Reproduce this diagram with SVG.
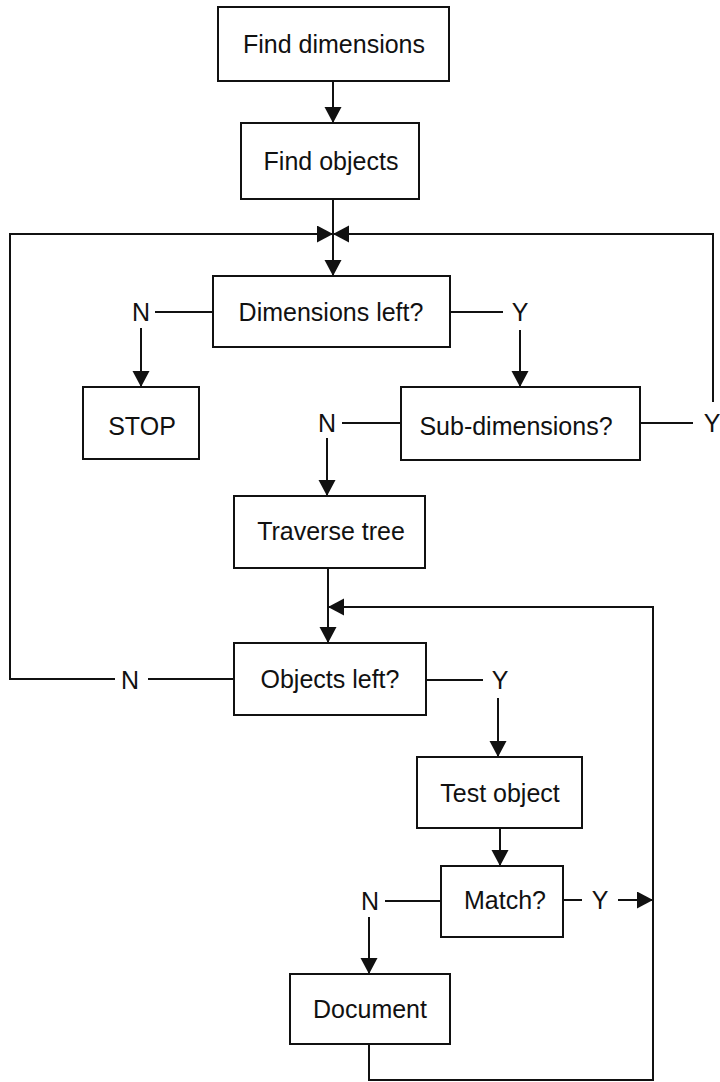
<svg xmlns="http://www.w3.org/2000/svg" width="720" height="1082" viewBox="0 0 720 1082">
  <style>
    .box { fill: #ffffff; stroke: #111111; stroke-width: 2; }
    .lbl { font-family: "Liberation Sans", Arial, sans-serif; font-size: 25px; fill: #111111; text-anchor: middle; }
    .ln { fill: none; stroke: #111111; stroke-width: 2; }
    .arr { fill: none; stroke: #111111; stroke-width: 2; marker-end: url(#head); }
  </style>
  <defs>
    <marker id="head" markerUnits="userSpaceOnUse" markerWidth="18" markerHeight="18" refX="16" refY="8.5" orient="auto">
      <path d="M0,0 L16,8.5 L0,17 Z" fill="#111111"/>
    </marker>
  </defs>
  <rect width="720" height="1082" fill="#ffffff"/>

  <!-- connectors -->
  <g id="connectors">
    <path class="arr" d="M333,81 V123"/>
    <path class="arr" d="M333,199 V276"/>
    <!-- outer loop back from "Objects left?" N -->
    <path class="ln" d="M234,679 H148"/>
    <path class="arr" d="M115,679 H10 V234 H333"/>
    <!-- loop back from "Sub-dimensions?" Y -->
    <path class="ln" d="M640,423 H693"/>
    <path class="arr" d="M713,402 V234 H333"/>
    <!-- "Dimensions left?" branches -->
    <path class="ln" d="M213,312 H155"/>
    <path class="arr" d="M141,328 V387"/>
    <path class="ln" d="M450,312 H503"/>
    <path class="arr" d="M520,330 V387"/>
    <!-- "Sub-dimensions?" N branch -->
    <path class="ln" d="M401,423 H342"/>
    <path class="arr" d="M327,438 V496"/>
    <path class="arr" d="M328,568 V643"/>
    <!-- inner loop from "Document" back to "Objects left?" -->
    <path class="arr" d="M369,1044 V1080 H653 V607 H328"/>
    <!-- "Objects left?" Y branch -->
    <path class="ln" d="M426,680 H483"/>
    <path class="arr" d="M498,698 V757"/>
    <path class="arr" d="M500,828 V866"/>
    <!-- "Match?" branches -->
    <path class="ln" d="M441,901 H385"/>
    <path class="arr" d="M369,917 V974"/>
    <path class="ln" d="M563,900 H582"/>
    <path class="arr" d="M618,900 H653"/>
  </g>

  <!-- branch labels -->
  <g id="labels">
    <text class="lbl" x="141" y="321">N</text>
    <text class="lbl" x="520" y="321">Y</text>
    <text class="lbl" x="327" y="432">N</text>
    <text class="lbl" x="712" y="432">Y</text>
    <text class="lbl" x="130" y="689">N</text>
    <text class="lbl" x="500" y="689">Y</text>
    <text class="lbl" x="370" y="910">N</text>
    <text class="lbl" x="600" y="909">Y</text>
  </g>

  <g id="find-dimensions">
    <rect class="box" x="218" y="7" width="231" height="74"/>
    <text class="lbl" x="334" y="53">Find dimensions</text>
  </g>
  <g id="find-objects">
    <rect class="box" x="241" y="123" width="178" height="76"/>
    <text class="lbl" x="331" y="170">Find objects</text>
  </g>
  <g id="dimensions-left">
    <rect class="box" x="213" y="276" width="237" height="71"/>
    <text class="lbl" x="331" y="321">Dimensions left?</text>
  </g>
  <g id="stop">
    <rect class="box" x="83" y="387" width="116" height="72"/>
    <text class="lbl" x="142" y="435">STOP</text>
  </g>
  <g id="sub-dimensions">
    <rect class="box" x="401" y="387" width="239" height="73"/>
    <text class="lbl" x="516" y="435">Sub-dimensions?</text>
  </g>
  <g id="traverse-tree">
    <rect class="box" x="234" y="496" width="191" height="72"/>
    <text class="lbl" x="331" y="540">Traverse tree</text>
  </g>
  <g id="objects-left">
    <rect class="box" x="234" y="643" width="192" height="72"/>
    <text class="lbl" x="330" y="688">Objects left?</text>
  </g>
  <g id="test-object">
    <rect class="box" x="417" y="757" width="165" height="71"/>
    <text class="lbl" x="500" y="802">Test object</text>
  </g>
  <g id="match">
    <rect class="box" x="441" y="866" width="122" height="71"/>
    <text class="lbl" x="505" y="909">Match?</text>
  </g>
  <g id="document">
    <rect class="box" x="290" y="974" width="160" height="70"/>
    <text class="lbl" x="370" y="1018">Document</text>
  </g>
</svg>
